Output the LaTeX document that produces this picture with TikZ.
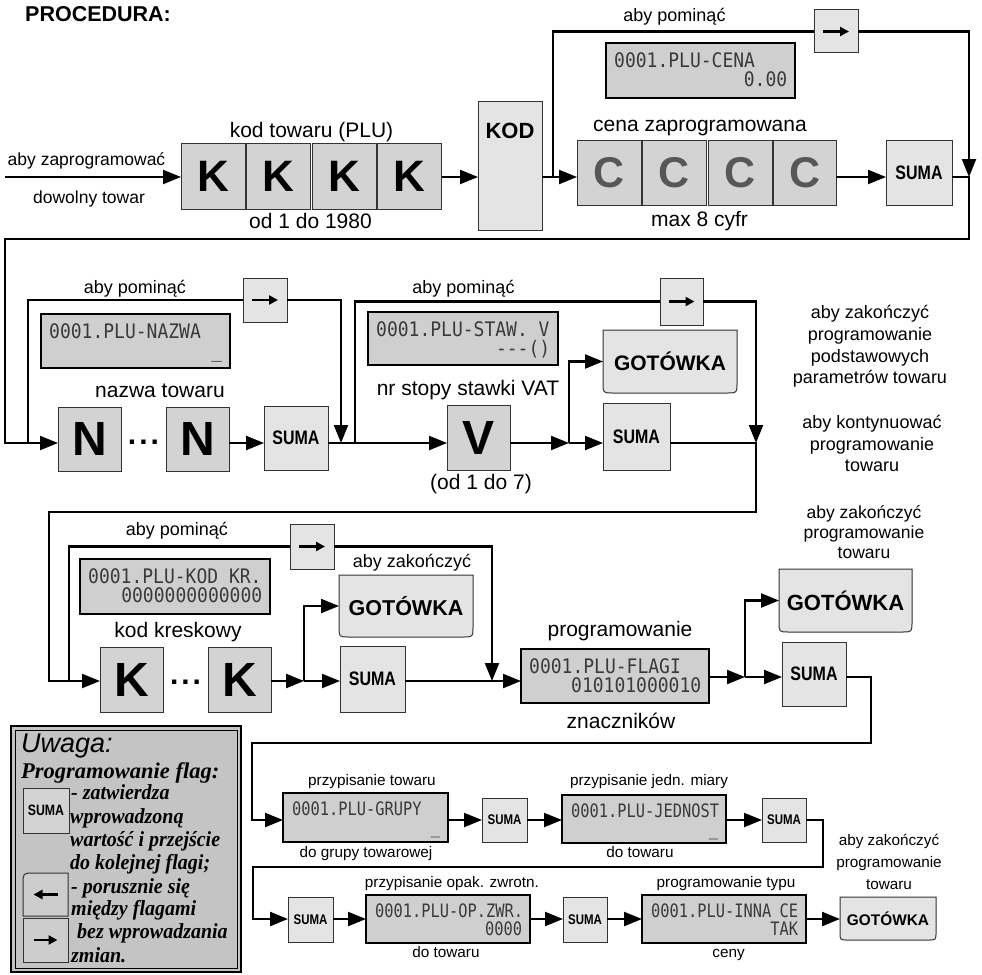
\documentclass[tikz,border=0pt]{standalone}
\usepackage{fontspec}
\setmainfont{Liberation Sans}
\newfontfamily\condb[FakeStretch=0.82]{Liberation Sans}
\newfontfamily\serifbi{Liberation Serif}
\newfontfamily\serifbn[FakeStretch=0.93]{Liberation Serif}
\newfontfamily\lcdA[FakeStretch=0.9]{DejaVu Sans Mono}
\newfontfamily\lcdB[FakeStretch=0.83]{DejaVu Sans Mono}
\usetikzlibrary{arrows.meta}
\definecolor{keyK}{HTML}{D3D3D3}
\definecolor{keyL}{HTML}{E4E4E4}
\definecolor{lcdfill}{HTML}{CFCFCF}
\definecolor{lcdtext}{HTML}{3A3A3A}
\definecolor{uwfill}{HTML}{C4C4C4}
\definecolor{uwkey}{HTML}{CDCDCD}
\definecolor{cgray}{HTML}{575757}
\definecolor{edge}{HTML}{333333}
\newcommand\fsz[1]{\fontsize{#1}{#1}\selectfont}
\newcommand\kbx[7]{\node[#1,minimum width={#5pt-#3pt},minimum height={#6pt-#4pt}] (#2) at ({(#3+#5)/2},{(#4+#6)/2}) {#7};}
\newcommand\lcdtwo[4]{\vbox{\lineskiplimit=-100pt\lineskip=0pt\baselineskip=#2pt
  \hbox to #1{#3\hfil}\hbox to #1{\hfil #4}}}
\newcommand\lcdtop[7]{\kbx{lcdbox}{#1}{#2}{#3}{#4}{#5}{}%
  \node[lcdtxt,font=\lcdA\fsz{20},anchor=base west] (#1-t) at ({#2+8},{#3+43.5})
    {\lcdtwo{\dimexpr #4pt-#2pt-16pt\relax}{19.5}{#6}{#7}};}
\newcommand\lcdbot[7]{\kbx{lcdbox}{#1}{#2}{#3}{#4}{#5}{}%
  \node[lcdtxt,font=\lcdB\fsz{18.5},anchor=base west] (#1-t) at ({#2+9},{#3+40.5})
    {\lcdtwo{\dimexpr #4pt-#2pt-17pt\relax}{18.5}{#6}{#7}};}
\newcommand\gotbox[7]{%
  \filldraw[gotshape] (#2,#3) -- (#2,{#5-#7}) .. controls (#2,#5) .. ({#2+#7},#5) -- ({#4-#7},#5) .. controls (#4,#5) .. (#4,{#5-#7}) -- (#4,#3) -- cycle;%
  \node[inner sep=0pt,outer sep=0pt,minimum width={#4pt-#2pt},minimum height={#5pt-#3pt},font=\bfseries\fsz{#6}] (#1) at ({(#2+#4)/2},{(#3+#5)/2}) {GOTÓWKA};}
\tikzset{
  conn/.style={line width=2.2pt,draw=black},
  arrw/.style={-{Triangle[length=18pt,width=14pt]}},
  glypharrow/.style={line width=2.3pt,-{Triangle[length=9pt,width=9pt]}},
  keyb/.style={draw=edge,line width=1pt,fill=keyL,inner sep=0pt,outer sep=0pt},
  kkey/.style={keyb,fill=keyK,font=\bfseries\fsz{44}},
  kbig/.style={keyb,fill=keyK,font=\bfseries\fsz{48}},
  ckey/.style={keyb,fill=keyK,text=cgray,font=\bfseries\fsz{43}},
  sumaL/.style={keyb,font=\condb\bfseries\fsz{19.5}},
  sumaS/.style={keyb,font=\condb\bfseries\fsz{14}},
  arrkey/.style={keyb},
  lcdbox/.style={draw=black,line width=2.4pt,fill=lcdfill,inner sep=0pt,outer sep=0pt},
  lcdtxt/.style={inner sep=0pt,text=lcdtext},
  gotshape/.style={draw=edge,line width=1pt,fill=keyL},
  lbl/.style={inner sep=0pt,anchor=base,font=\fsz{21}},
  slbl/.style={inner sep=0pt,anchor=base,font=\fsz{18}},
  mlbl/.style={inner sep=0pt,anchor=base,font=\fsz{17.5}},
  tlbl/.style={inner sep=0pt,anchor=base,font=\fsz{15.3}},
  uwt/.style={inner sep=0pt,anchor=base west,font=\serifbn\bfseries\itshape\fsz{21.5}},
  dots/.style={inner sep=0pt,anchor=base,font=\bfseries\fsz{30}},
}
\begin{document}
\begin{tikzpicture}[x=1pt,y=-1pt]
\useasboundingbox (0,0) rectangle (982,974);
\fill[white] (0,0) rectangle (982,974);

% ---------- title
\node[inner sep=0pt,anchor=base west,font=\bfseries\fsz{21.5}] (title) at (25,22) {PROCEDURA:};

% ---------- row 1 nodes
\kbx{kkey}{k1}{181}{143}{245}{209}{K}
\kbx{kkey}{k2}{246.5}{143}{310.5}{209}{K}
\kbx{kkey}{k3}{312}{143}{376}{209}{K}
\kbx{kkey}{k4}{377.5}{143}{441.5}{209}{K}
\kbx{keyb}{kod}{478}{101}{542}{230}{}
\node[inner sep=0pt,anchor=base,font=\bfseries\fsz{22}] (kodt) at (510,138) {KOD};
\kbx{ckey}{c1}{577}{140}{641}{205}{C}
\kbx{ckey}{c2}{642.5}{140}{706.5}{205}{C}
\kbx{ckey}{c3}{708}{140}{772}{205}{C}
\kbx{ckey}{c4}{773.5}{140}{836}{205}{C}
\kbx{sumaL}{suma1}{886}{140}{952}{205}{SUMA}
\kbx{arrkey}{arr1}{814}{10}{858}{53}{}
\draw[glypharrow] ([xshift=-13pt]arr1.center) -- ([xshift=13pt]arr1.center);
\lcdtop{lcd1}{606}{43}{795}{98}{0001.PLU-CENA}{0.00}

\node[mlbl] (t1) at (86.5,165) {aby zaprogramować};
\node[mlbl] (t2) at (89,203) {dowolny towar};
\node[lbl] (t3) at (311.5,137) {kod towaru (PLU)};
\node[lbl] (t4) at (310.5,228) {od 1 do 1980};
\node[slbl] (t5) at (674.5,22) {aby pominąć};
\node[lbl] (t6) at (700,131) {cena zaprogramowana};
\node[lbl] (t7) at (699.5,226) {max 8 cyfr};

% ---------- row 2 nodes
\kbx{kbig}{n1}{58}{407}{121}{471}{N}
\kbx{kbig}{n2}{166}{407}{229}{471}{N}
\node[dots] (d1) at (143.5,444) {.\kern3pt.\kern3pt.};
\kbx{sumaL}{suma2}{264}{406}{328}{470}{SUMA}
\kbx{arrkey}{arr2}{243}{278}{287}{322}{}
\draw[glypharrow] ([xshift=-13pt]arr2.center) -- ([xshift=13pt]arr2.center);
\lcdtop{lcd2}{41}{314}{230}{368}{0001.PLU-NAZWA}{\_}
\lcdtop{lcd3}{368}{312}{558}{365}{0001.PLU-STAW. V}{-{}-{}-()}
\kbx{kbig}{v}{447}{405}{510}{470}{V}
\kbx{arrkey}{arr3}{660}{278}{703}{325}{}
\draw[glypharrow] ([xshift=-13pt]arr3.center) -- ([xshift=13pt]arr3.center);
\gotbox{got1}{603}{330}{737}{393}{21}{10}
\kbx{sumaL}{suma3}{603}{403}{670}{470}{SUMA}

\node[slbl] (t8) at (135,293) {aby pominąć};
\node[slbl] (t9) at (463.5,293) {aby pominąć};
\node[lbl] (t10) at (160,397) {nazwa towaru};
\node[lbl] (t11) at (468,395) {nr stopy stawki VAT};
\node[lbl] (t12) at (481,489) {(od 1 do 7)};
\node[slbl] (b1a) at (870,318) {aby zakończyć};
\node[slbl] (b1b) at (870,340) {programowanie};
\node[slbl] (b1c) at (870,362) {podstawowych};
\node[slbl] (b1d) at (870,383) {parametrów towaru};
\node[slbl] (b2a) at (872,428) {aby kontynuować};
\node[slbl] (b2b) at (872,450) {programowanie};
\node[slbl] (b2c) at (872,471) {towaru};

% ---------- row 3 nodes
\lcdtop{lcd4}{80}{559}{270}{614}{0001.PLU-KOD KR.}{0000000000000}
\kbx{arrkey}{arr4}{290}{524}{334}{569}{}
\draw[glypharrow] ([xshift=-13pt]arr4.center) -- ([xshift=13pt]arr4.center);
\kbx{kbig}{k5}{100}{647}{163}{712}{K}
\kbx{kbig}{k6}{208}{647}{271}{712}{K}
\node[dots] (d2) at (185.5,684) {.\kern3pt.\kern3pt.};
\gotbox{got2}{339}{575}{473}{637}{21.5}{10}
\kbx{sumaL}{suma4}{340}{646}{405}{712}{SUMA}
\lcdtop{flagi}{521}{649}{709}{703}{0001.PLU-FLAGI}{010101000010}
\gotbox{got3}{779}{569}{912}{632}{22}{10}
\kbx{sumaL}{suma5}{782}{642}{846}{706}{SUMA}

\node[slbl] (t20) at (177,535) {aby pominąć};
\node[slbl] (t21) at (412,567) {aby zakończyć};
\node[lbl] (t22) at (178,637) {kod kreskowy};
\node[lbl] (t23) at (620,636) {programowanie};
\node[lbl] (t24) at (621,728) {znaczników};
\node[mlbl] (b3a) at (864,518) {aby zakończyć};
\node[mlbl] (b3b) at (864,538) {programowanie};
\node[mlbl] (b3c) at (864,558) {towaru};

% ---------- row 4 nodes
\lcdbot{lcd5}{283}{793}{448}{842}{0001.PLU-GRUPY}{\_}
\kbx{sumaS}{suma6}{482}{798}{527}{842}{SUMA}
\lcdbot{lcd6}{562}{795}{726}{843}{0001.PLU-JEDNOST}{\_}
\kbx{sumaS}{suma7}{762}{798}{806}{842}{SUMA}

\node[tlbl] (t30) at (372,785) {przypisanie towaru};
\node[tlbl] (t31) at (366,857) {do grupy towarowej};
\node[tlbl] (t32) at (649,785) {przypisanie jedn. miary};
\node[tlbl] (t33) at (640,857) {do towaru};
\node[tlbl] (b4a) at (889,845) {aby zakończyć};
\node[tlbl] (b4b) at (889,867) {programowanie};
\node[tlbl] (b4c) at (889,889) {towaru};

% ---------- row 5 nodes
\kbx{sumaS}{suma8}{288}{897}{333}{942}{SUMA}
\lcdbot{lcd7}{366}{895}{530}{943}{0001.PLU-OP.ZWR.}{0000}
\kbx{sumaS}{suma9}{563}{897}{607}{942}{SUMA}
\lcdbot{lcd8}{642}{895}{806}{943}{0001.PLU-INNA CE}{TAK}
\gotbox{got4}{840}{897}{936}{940}{15.4}{8}

\node[tlbl] (t40) at (452,887) {przypisanie opak. zwrotn.};
\node[tlbl] (t41) at (446,957) {do towaru};
\node[tlbl] (t42) at (726,887) {programowanie typu};
\node[tlbl] (t43) at (728.5,957) {ceny};

% ---------- coordinates
\coordinate (in) at (5,177);
\coordinate (br1) at (553,177);
\coordinate (j1) at (969,177);
\coordinate (f1a) at (969,239);
\coordinate (f1b) at (5,239);
\coordinate (f1c) at (5,443);
\coordinate (r2) at (0,443);
\coordinate (s2a) at (28,443);
\coordinate (j2) at (341,443);
\coordinate (s2b) at (355,443);
\coordinate (br3) at (569,443);
\coordinate (j3) at (756,443);
\coordinate (f2a) at (756,512);
\coordinate (f2b) at (49,512);
\coordinate (f2c) at (49,681);
\coordinate (r3) at (0,681);
\coordinate (s3a) at (69,681);
\coordinate (j4) at (492,681);
\coordinate (br4) at (304,681);
\coordinate (r3b) at (0,677);
\coordinate (br5) at (745,677);
\coordinate (f3a) at (871,677);
\coordinate (f3b) at (871,743);
\coordinate (f3c) at (252,743);
\coordinate (f3d) at (252,820);
\coordinate (r4) at (0,820);
\coordinate (f4a) at (823,820);
\coordinate (f4b) at (823,867);
\coordinate (f4c) at (253,867);
\coordinate (f4d) at (253,919);
\coordinate (r5) at (0,919);

% ---------- connectors row 1
\draw[conn,arrw] (in) -- (in -| k1.west);
\draw[conn,arrw] (k4.east |- in) -- (kod.west |- in);
\draw[conn,arrw] (kod.east |- in) -- (c1.west |- in);
\draw[conn] (br1) |- (arr1.west);
\draw[conn,arrw] (arr1.east) -| (j1);
\draw[conn,arrw] (c4.east |- in) -- (suma1.west |- in);
\draw[conn,arrw] (suma1.east |- in) -- (j1) -- (f1a) -- (f1b) -- (f1c) -- (n1.west |- r2);

% ---------- connectors row 2
\draw[conn] (s2a) |- (arr2.west);
\draw[conn,arrw] (arr2.east) -| (j2);
\draw[conn,arrw] (n2.east |- r2) -- (suma2.west |- r2);
\draw[conn,arrw] (suma2.east |- r2) -- (v.west |- r2);
\draw[conn] (s2b) |- (arr3.west);
\draw[conn,arrw] (arr3.east) -| (j3);
\draw[conn,arrw] (v.east |- r2) -- (br3);
\draw[conn,arrw] (br3) |- (got1.west);
\draw[conn,arrw] (br3) -- (suma3.west |- r2);
\draw[conn,arrw] (suma3.east |- r2) -- (j3) -- (f2a) -- (f2b) -- (f2c) -- (k5.west |- r3);

% ---------- connectors row 3
\draw[conn] (s3a) |- (arr4.west);
\draw[conn,arrw] (arr4.east) -| (j4);
\draw[conn,arrw] (k6.east |- r3) -- (br4);
\draw[conn,arrw] (br4) |- (got2.west);
\draw[conn,arrw] (br4) -- (suma4.west |- r3);
\draw[conn,arrw] (suma4.east |- r3) -- (flagi.west |- r3);
\draw[conn,arrw] (flagi.east |- r3b) -- (br5);
\draw[conn,arrw] (br5) |- (got3.west);
\draw[conn,arrw] (br5) -- (suma5.west |- r3b);
\draw[conn,arrw] (suma5.east |- r3b) -- (f3a) -- (f3b) -- (f3c) -- (f3d) -- (lcd5.west |- r4);

% ---------- connectors row 4 / 5
\draw[conn,arrw] (lcd5.east |- r4) -- (suma6.west |- r4);
\draw[conn,arrw] (suma6.east |- r4) -- (lcd6.west |- r4);
\draw[conn,arrw] (lcd6.east |- r4) -- (suma7.west |- r4);
\draw[conn,arrw] (suma7.east |- r4) -- (f4a) -- (f4b) -- (f4c) -- (f4d) -- (suma8.west |- r5);
\draw[conn,arrw] (suma8.east |- r5) -- (lcd7.west |- r5);
\draw[conn,arrw] (lcd7.east |- r5) -- (suma9.west |- r5);
\draw[conn,arrw] (suma9.east |- r5) -- (lcd8.west |- r5);
\draw[conn,arrw] (lcd8.east |- r5) -- (got4.west |- r5);

% ---------- Uwaga box
\draw[fill=uwfill,line width=2.4pt] (11,726) rectangle (241,972);
\draw[line width=0.8pt] (15,730) rectangle (237,968);
\node[inner sep=0pt,anchor=base west,font=\itshape\fsz{27}] (uw0) at (21,752) {Uwaga:};
\node[uwt,font=\serifbi\bfseries\itshape\fsz{22.5}] (uw1) at (21,778) {Programowanie flag:};
\kbx{sumaS,fill=keyK,font=\condb\bfseries\fsz{15}}{uwsuma}{23}{788}{69}{833}{SUMA}
\node[uwt] (uw2) at (71,799) {- zatwierdza};
\node[uwt] (uw3) at (70,823) {wprowadzoną};
\node[uwt] (uw4) at (70,846) {wartość i przejście};
\node[uwt] (uw5) at (70,869) {do kolejnej flagi;};
\filldraw[draw=edge,line width=1pt,fill=uwkey] (23,916) -- (23,884) .. controls (23,873) .. (34,873) -- (68,873) -- (68,916) -- cycle;
\node[inner sep=0pt,minimum width=45pt,minimum height=43pt] (uwl) at (45.5,894.5) {};
\draw[glypharrow] ([xshift=12pt]uwl.center) -- ([xshift=-12pt]uwl.center);
\kbx{keyb,fill=uwkey}{uwr}{23}{918}{68}{962}{}
\draw[glypharrow] ([xshift=-12pt]uwr.center) -- ([xshift=12pt]uwr.center);
\node[uwt] (uw6) at (71,893) {- porusznie się};
\node[uwt] (uw7) at (71,915) {między flagami};
\node[uwt] (uw8) at (77,938) {bez wprowadzania};
\node[uwt] (uw9) at (71,962) {zmian.};
\end{tikzpicture}
\end{document}
